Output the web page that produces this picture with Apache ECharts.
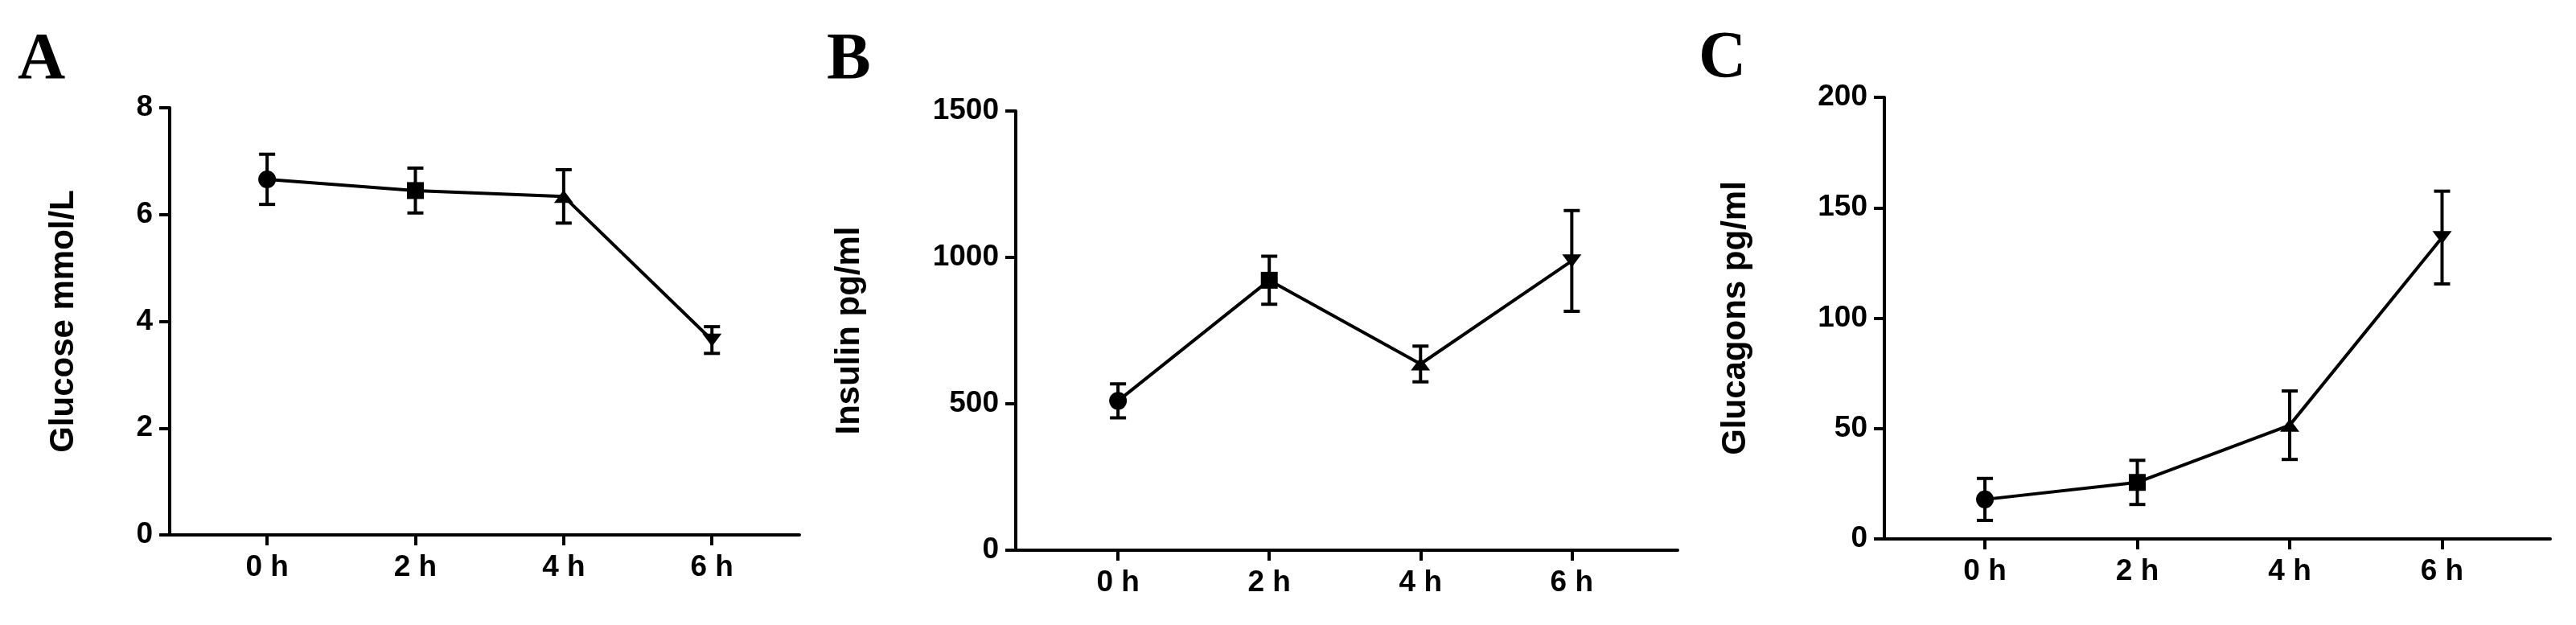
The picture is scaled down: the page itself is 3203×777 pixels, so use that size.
<!DOCTYPE html>
<html>
<head>
<meta charset="utf-8">
<script src="https://cdn.jsdelivr.net/npm/echarts@6/dist/echarts.min.js"></script>
<style>
html,body{margin:0;padding:0;background:#fff;}
#chart{width:3203px;height:777px;}
</style>
</head>
<body>
<div id="chart"></div>
<script>
// ---- data ----
const categories = ['0 h', '2 h', '4 h', '6 h'];
const panelLetters = ['A', 'B', 'C'];
const yTitles = ['Glucose mmol/L', 'Insulin pg/ml', 'Glucagons pg/ml'];
const glucoseMean = [6.66, 6.45, 6.34, 3.65];
const glucoseErr = [0.47, 0.42, 0.50, 0.25];
const insulinMean = [510, 922, 636, 988];
const insulinErr = [58, 82, 61, 172];
const glucagonMean = [17.9, 25.6, 51.5, 136.5];
const glucagonErr = [9.5, 10, 15.5, 21];
const yMax = [8, 1500, 200];
const yInterval = [2, 500, 50];
const markerSymbols = ['circle', 'rect', 'triangle', 'triangle'];
const markerRotate = [0, 0, 0, 180];

// ---- layout (pixels) ----
const grids = [
  {left: 211, top: 134, width: 783, height: 531},
  {left: 1263, top: 138, width: 823, height: 546},
  {left: 2343, top: 121, width: 828, height: 549}
];
const xRanges = [[-0.657, 3.59], [-0.676, 3.70], [-0.66, 3.71]];
const nameGaps = [111, 186, 164];
const letterPos = [[22, 105], [1028, 105], [2112, 103]];

const means = [glucoseMean, insulinMean, glucagonMean];
const errs = [glucoseErr, insulinErr, glucagonErr];

const FONT = "'Liberation Sans', Arial, sans-serif";
const BLACK = '#000';

const option = {
  animation: false,
  backgroundColor: '#fff',
  grid: grids.map(g => Object.assign({containLabel: false}, g)),
  xAxis: grids.map((g, i) => ({
    type: 'value',
    gridIndex: i,
    min: xRanges[i][0],
    max: xRanges[i][1],
    splitLine: {show: false},
    axisLine: {show: true, onZero: false, lineStyle: {color: BLACK, width: 4}},
    axisTick: {show: true, customValues: [0, 1, 2, 3], length: 13, lineStyle: {color: BLACK, width: 4}},
    axisLabel: {
      show: true, customValues: [0, 1, 2, 3], margin: 22,
      formatter: v => categories[Math.round(v)] || '',
      fontFamily: FONT, fontWeight: 'bold', fontSize: 37, color: BLACK
    }
  })),
  yAxis: grids.map((g, i) => ({
    type: 'value',
    gridIndex: i,
    min: 0,
    max: yMax[i],
    interval: yInterval[i],
    name: yTitles[i],
    nameLocation: 'middle',
    nameGap: nameGaps[i],
    nameTextStyle: {fontFamily: FONT, fontWeight: 'bold', fontSize: 42, color: BLACK},
    splitLine: {show: false},
    axisLine: {show: true, onZero: false, lineStyle: {color: BLACK, width: 4}},
    axisTick: {show: true, length: 13, lineStyle: {color: BLACK, width: 4}},
    axisLabel: {
      margin: 21, formatter: v => String(v),
      fontFamily: FONT, fontWeight: 'bold', fontSize: 37, color: BLACK
    }
  })),
  graphic: panelLetters.map((t, i) => ({
    type: 'text',
    left: letterPos[i][0],
    top: letterPos[i][1] - 70,
    style: {text: t, font: "bold 82px 'Liberation Serif', 'Times New Roman', serif", fill: BLACK}
  })),
  series: []
};

for (let i = 0; i < 3; i++) {
  option.series.push({
    type: 'line',
    xAxisIndex: i,
    yAxisIndex: i,
    lineStyle: {color: BLACK, width: 4},
    itemStyle: {color: BLACK},
    z: 3,
    data: means[i].map((v, k) => ({
      value: [k, v],
      symbol: markerSymbols[k],
      symbolRotate: markerRotate[k],
      symbolSize: markerSymbols[k] === 'triangle' ? [24, 16] : (markerSymbols[k] === 'rect' ? 21 : 22)
    }))
  });
  option.series.push({
    type: 'custom',
    xAxisIndex: i,
    yAxisIndex: i,
    z: 4,
    data: means[i].map((v, k) => [k, v - errs[i][k], v + errs[i][k]]),
    renderItem: function (params, api) {
      const x = api.value(0);
      const lo = api.coord([x, api.value(1)]);
      const hi = api.coord([x, api.value(2)]);
      const half = 10;
      const style = {stroke: BLACK, lineWidth: 4, fill: null};
      return {
        type: 'group',
        children: [
          {type: 'line', shape: {x1: hi[0], y1: hi[1], x2: lo[0], y2: lo[1]}, style: style},
          {type: 'line', shape: {x1: hi[0] - half, y1: hi[1], x2: hi[0] + half, y2: hi[1]}, style: style},
          {type: 'line', shape: {x1: lo[0] - half, y1: lo[1], x2: lo[0] + half, y2: lo[1]}, style: style}
        ]
      };
    }
  });
}

const chart = echarts.init(document.getElementById('chart'), null, {renderer: 'canvas'});
chart.setOption(option);
</script>
</body>
</html>
